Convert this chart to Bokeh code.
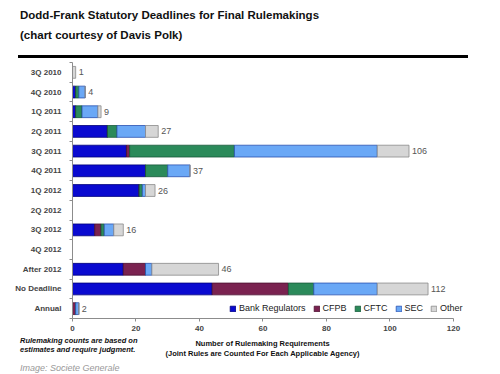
from bokeh.plotting import figure
from bokeh.models import (ColumnDataSource, Div, Legend, LegendItem,
                          Range1d, FixedTicker)
from bokeh.layouts import column
from bokeh.embed import file_html
from bokeh.resources import INLINE
from bokeh.core.properties import value

categories = ["3Q 2010", "4Q 2010", "1Q 2011", "2Q 2011", "3Q 2011", "4Q 2011",
              "1Q 2012", "2Q 2012", "3Q 2012", "4Q 2012", "After 2012",
              "No Deadline", "Annual"]
bank_regulators = [0, 1, 1, 11, 17, 23, 21, 0, 7, 0, 16, 44, 0]
cfpb = [0, 0, 0, 0, 1, 0, 0, 0, 2, 0, 7, 24, 1]
cftc = [0, 1, 2, 3, 33, 7, 1, 0, 1, 0, 0, 8, 0]
sec = [0, 2, 5, 9, 45, 7, 1, 0, 3, 0, 2, 20, 1]
other = [1, 0, 1, 4, 10, 0, 3, 0, 3, 0, 21, 16, 0]
series_names = ["Bank Regulators", "CFPB", "CFTC", "SEC", "Other"]
x_ticks = [0, 20, 40, 60, 80, 100, 120]

FONT = "Liberation Sans"
fill_colors = ["#0a0ad0", "#7a2250", "#2b8a5a", "#6aa8f6", "#d6d6d6"]
line_colors = ["#00007a", "#4a1030", "#16583a", "#2a50b0", "#8a8a8a"]

n = len(categories)
# category slots, top to bottom, on a numeric axis (slot centres at k + 0.5)
ypos = [n - i - 0.5 for i in range(n)]
totals = [a + b + c + d + e for a, b, c, d, e in zip(bank_regulators, cfpb, cftc, sec, other)]
labels = [str(t) if t > 0 else "" for t in totals]

source = ColumnDataSource(dict(y=ypos, cat=categories, bank=bank_regulators, cfpb=cfpb,
                               cftc=cftc, sec=sec, other=other,
                               total=totals, label=labels))

title = Div(
    text=(
        f'<div style="font-family:{FONT};font-weight:bold;font-size:11.5px;color:#111;'
        f'padding-left:20px;padding-top:8px;line-height:14px;">Dodd-Frank Statutory Deadlines for Final Rulemakings</div>'
        f'<div style="font-family:{FONT};font-weight:bold;font-size:11.5px;color:#111;'
        f'padding-left:20px;line-height:14px;margin-top:6px;">(chart courtesy of Davis Polk)</div>'
        f'<div style="margin-left:18px;width:450px;border-top:3.5px solid #000;margin-top:13px;"></div>'
    ),
    width=500, height=62, margin=(0, 0, 0, 0))

p = figure(width=500, height=274, output_backend="svg", toolbar_location=None,
           y_range=Range1d(0, n), x_range=Range1d(0, 126),
           min_border_top=0, min_border_left=72, min_border_right=28,
           min_border_bottom=18)
p.outline_line_color = None
p.xgrid.grid_line_color = None
p.ygrid.grid_line_color = None

stackers = ["bank", "cfpb", "cftc", "sec", "other"]
renderers = p.hbar_stack(stackers, y="y", height=0.6, source=source,
                         fill_color=fill_colors, line_color=line_colors,
                         line_width=0.8)

p.text(x="total", y="y", text="label", source=source, x_offset=3,
       text_baseline="middle", text_align="left", text_font_size="9px",
       text_color="#555555", text_font=value(FONT))

legend = Legend(items=[LegendItem(label=s, renderers=[r]) for s, r in zip(series_names, renderers)],
                orientation="horizontal", location=(157, 5), padding=0, margin=0,
                spacing=7, label_standoff=3, glyph_width=7, glyph_height=7,
                label_width=0, label_height=10, label_text_font_size="9px",
                label_text_font=FONT, label_text_color="#222222",
                border_line_color=None, background_fill_alpha=0)
p.add_layout(legend)

xa = p.xaxis[0]
xa.ticker = FixedTicker(ticks=x_ticks)
xa.bounds = (0, 120)
xa.axis_line_color = "#8c8c8c"
xa.major_tick_line_color = "#8c8c8c"
xa.major_tick_in = 0
xa.major_tick_out = 3
xa.minor_tick_line_color = None
xa.major_label_text_font = FONT
xa.major_label_text_font_style = "bold"
xa.major_label_text_font_size = "8px"
xa.major_label_standoff = 4

ya = p.yaxis[0]
ya.ticker = FixedTicker(ticks=ypos, minor_ticks=list(range(n + 1)))
ya.major_label_overrides = {y: c for y, c in zip(ypos, categories)}
ya.axis_line_color = "#8c8c8c"
ya.major_tick_line_color = None
ya.minor_tick_line_color = "#8c8c8c"
ya.minor_tick_in = 0
ya.minor_tick_out = 3
ya.major_label_text_font = FONT
ya.major_label_text_font_style = "bold"
ya.major_label_text_font_size = "8px"
ya.major_label_standoff = 5

footer = Div(
    text=(
        f'<div style="position:relative;width:500px;height:38px;font-family:{FONT};color:#111;">'
        f'<div style="position:absolute;left:20px;top:0px;font-weight:bold;font-style:italic;'
        f'font-size:7.5px;line-height:9px;white-space:nowrap;">Rulemaking counts are based on<br>'
        f'estimates and require judgment.</div>'
        f'<div style="position:absolute;left:72px;width:381px;top:3px;text-align:center;'
        f'font-weight:bold;font-size:7.5px;line-height:9.5px;white-space:nowrap;">'
        f'Number of Rulemaking Requirements<br>'
        f'(Joint Rules are Counted For Each Applicable Agency)</div>'
        f'<div style="position:absolute;left:20px;top:27px;font-style:italic;font-size:9px;'
        f'line-height:11px;color:#999;white-space:nowrap;">Image: Societe Generale</div>'
        f'</div>'
    ),
    width=500, height=38, margin=(0, 0, 0, 0))

layout = column(title, p, footer, spacing=0)
open("out.html", "w").write(file_html(layout, INLINE))
